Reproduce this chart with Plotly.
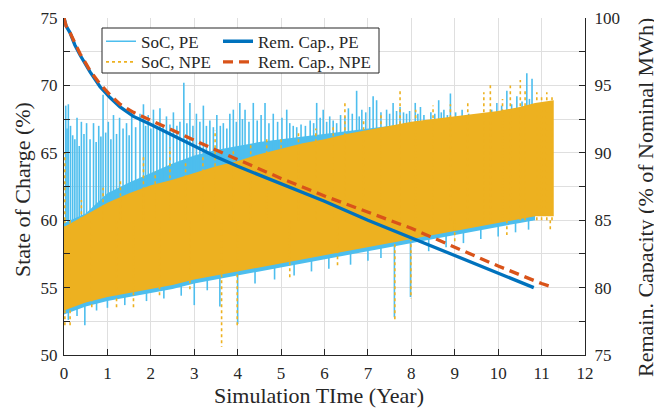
import plotly.graph_objects as go

# ---------------- data ----------------
# SoC band of the PE case (dense core of the oscillating trace)
pe_band_years = [0, 0.5, 1, 1.5, 2, 2.5, 3, 3.5, 4, 4.5, 5, 5.5, 6, 6.5, 7, 7.5, 8, 8.5, 9, 9.5, 10, 10.5, 10.85]
pe_band_lo = [53.0, 53.6, 54.0, 54.3, 54.6, 54.9, 55.3, 55.6, 55.9, 56.2, 56.5, 56.8, 57.1, 57.4, 57.7, 58.0, 58.3, 58.6, 58.9, 59.2, 59.5, 59.8, 60.0]
pe_band_hi = [59.8, 60.5, 62.0, 62.8, 63.5, 64.2, 64.8, 65.2, 65.5, 65.8, 66.0, 66.2, 66.4, 66.6, 66.8, 67.0, 67.2, 67.3, 67.4, 67.5, 67.6, 67.7, 67.7]

# SoC band of the NPE case
npe_band_years = [0, 0.5, 1, 1.5, 2, 2.5, 3, 3.5, 4, 4.5, 5, 5.5, 6, 6.5, 7, 7.5, 8, 8.5, 9, 9.5, 10, 10.5, 10.85, 11.28]
npe_band_lo = [53.3, 53.9, 54.3, 54.6, 54.9, 55.2, 55.6, 55.9, 56.2, 56.5, 56.8, 57.1, 57.4, 57.7, 58.0, 58.3, 58.6, 58.9, 59.2, 59.5, 59.8, 60.1, 60.3, 60.3]
npe_band_hi = [59.5, 60.4, 61.3, 62.0, 62.6, 63.0, 63.5, 64.0, 64.4, 64.9, 65.3, 65.7, 66.0, 66.4, 66.7, 67.0, 67.3, 67.5, 67.7, 67.9, 68.1, 68.4, 68.7, 68.9]

# upward peaks of the PE SoC trace
pe_peak_years = [0.04, 0.07, 0.10, 0.15, 0.20, 0.25, 0.30, 0.35, 0.40, 0.46, 0.52, 0.60, 0.68, 0.74, 0.80, 0.85,
                 0.90, 0.96, 1.02, 1.08, 1.14, 1.21, 1.28, 1.36, 1.44, 1.50, 1.56, 1.65, 1.75, 1.83, 1.88, 1.94,
                 2.00, 2.06, 2.14, 2.21, 2.28, 2.36, 2.44, 2.52, 2.60, 2.67, 2.76, 2.83, 2.90, 2.97, 3.05, 3.13,
                 3.21, 3.28, 3.36, 3.44, 3.52, 3.60, 3.67, 3.75, 3.82, 3.90, 3.97,
                 4.05, 4.11, 4.17, 4.26, 4.36, 4.45, 4.54, 4.63, 4.72, 4.82, 4.92, 5.02, 5.13, 5.20, 5.28, 5.36,
                 5.46, 5.56, 5.67, 5.75, 5.82, 5.90, 5.97, 6.05, 6.12, 6.20, 6.28, 6.37, 6.47, 6.55, 6.64, 6.74,
                 6.80, 6.86, 6.95, 7.04, 7.12, 7.20, 7.30, 7.43, 7.50, 7.58, 7.66, 7.74, 7.82, 7.89, 7.96,
                 8.09, 8.15, 8.21, 8.29, 8.36, 8.45, 8.54, 8.63, 8.69, 8.75, 8.83, 8.90, 9.02, 9.10, 9.17, 9.25,
                 9.32, 9.42, 9.51, 9.62, 9.74, 9.85, 9.97, 10.08, 10.20, 10.31, 10.43, 10.55, 10.66, 10.72, 10.78]
pe_peak_soc = [68.5, 66.8, 68.6, 67.0, 66.3, 66.0, 67.6, 65.5, 67.3, 66.4, 67.2, 66.0, 67.2, 65.8, 67.0, 66.2,
               69.3, 66.5, 67.3, 66.0, 67.8, 66.4, 67.6, 66.8, 67.2, 66.3, 67.7, 66.9, 67.9, 68.6, 67.0, 67.8,
               66.8, 68.2, 67.0, 68.3, 66.9, 67.7, 67.1, 68.0, 67.0, 67.3, 70.2, 67.2, 68.7, 67.0, 67.9, 67.3,
               68.5, 67.0, 67.4, 66.9, 67.8, 67.0, 67.2, 66.8, 67.9, 68.2, 67.3,
               68.7, 67.5, 68.2, 67.3, 68.7, 67.4, 67.8, 68.7, 67.2, 67.9, 67.3, 67.6, 68.2, 67.2, 67.0, 66.9,
               67.1, 67.0, 67.4, 67.2, 68.7, 67.6, 68.2, 67.3, 67.7, 67.4, 67.2, 67.8, 67.7, 68.3, 67.9, 69.6,
               67.7, 68.2, 68.0, 68.4, 69.2, 68.9, 68.0, 68.2, 67.9, 68.7, 68.1, 68.4, 68.0, 67.9, 68.1,
               68.7, 67.9, 68.4, 67.8, 67.4, 68.0, 67.9, 68.9, 68.0, 68.2, 67.8, 69.4, 68.0, 67.7, 68.2, 67.8,
               67.9, 67.6, 67.7, 67.8, 67.7, 68.2, 68.7, 68.5, 69.6, 68.6, 69.2, 68.8, 70.9, 69.0, 70.5]

# downward dips of the PE SoC trace
pe_dip_years = [0.10, 0.30, 0.48, 0.75, 1.00, 1.40, 1.90, 2.30, 2.70, 3.00, 3.30, 3.59, 4.00, 4.40, 4.85,
                5.30, 5.70, 6.10, 6.60, 7.00, 7.30, 7.61, 7.98, 8.40, 8.80, 9.20, 9.60, 10.00, 10.40, 10.70]
pe_dip_soc = [52.6, 52.9, 52.2, 53.3, 53.5, 53.7, 54.0, 54.2, 54.4, 53.7, 54.8, 53.6, 52.3, 55.3, 55.6,
              55.9, 56.2, 56.4, 56.7, 57.0, 57.2, 52.8, 54.3, 57.7, 58.0, 58.3, 58.6, 58.8, 59.1, 59.3]

# upward peaks of the NPE SoC trace
npe_peak_years = [0.02, 0.40, 0.90, 1.30, 1.83, 2.10, 2.44, 2.80, 3.20, 3.48, 3.90, 4.30, 4.67, 5.00, 5.40,
                  5.80, 6.20, 6.47, 6.90, 7.30, 7.74, 8.10, 8.50, 8.90, 9.30, 9.67, 9.82, 10.10, 10.28, 10.51,
                  10.62, 10.89, 11.00, 11.12, 11.24]
npe_peak_soc = [65.0, 61.5, 62.4, 63.0, 64.7, 63.6, 65.4, 64.3, 64.7, 66.7, 65.3, 65.6, 66.2, 66.1, 66.6,
                66.8, 67.0, 68.7, 67.5, 67.8, 69.7, 68.2, 68.5, 68.6, 68.8, 69.5, 70.2, 69.0, 70.0, 70.4,
                69.7, 69.5, 69.3, 69.5, 69.2]

# downward dips of the NPE SoC trace
npe_dip_years = [0.02, 0.14, 0.64, 1.21, 1.60, 2.20, 2.90, 3.63, 3.99, 5.20, 6.30, 7.62, 7.99, 9.00, 10.20, 11.20]
npe_dip_soc = [52.0, 52.0, 53.5, 53.4, 53.5, 54.3, 54.8, 50.6, 52.2, 55.6, 56.6, 52.6, 54.2, 58.3, 58.9, 59.3]

# remaining capacity (% of nominal MWh)
pe_cap_years = [0, 0.05, 0.14, 0.25, 0.37, 0.6, 0.83, 1.06, 1.29, 1.6, 2, 2.5, 3, 3.5, 4, 5, 6, 7, 8, 9, 10, 10.82]
pe_cap = [100, 99.4, 98.9, 98.0, 97.25, 96.0, 94.9, 94.1, 93.4, 92.7, 92.1, 91.3, 90.5, 89.7, 89.0, 87.7, 86.4, 85.0, 83.7, 82.4, 81.1, 80.0]
npe_cap_years = [0, 0.05, 0.14, 0.25, 0.37, 0.6, 0.83, 1.06, 1.29, 1.6, 2, 2.5, 3, 3.5, 4, 5, 6, 7, 8, 9, 10, 11, 11.28]
npe_cap = [100, 99.4, 98.9, 98.1, 97.35, 96.1, 95.1, 94.3, 93.6, 93.0, 92.4, 91.7, 90.9, 90.2, 89.5, 88.1, 86.8, 85.6, 84.4, 83.0, 81.6, 80.3, 80.0]

x_ticks = list(range(0, 13))
soc_ticks = [50, 55, 60, 65, 70, 75]
cap_ticks = [75, 80, 85, 90, 95, 100]

# ---------------- styling ----------------
C_PE = "#4DBEEE"
C_NPE = "#EDB120"
C_PE_CAP = "#0072BD"
C_NPE_CAP = "#D95319"
AX = "#262626"
GRID = "#DFDFDF"
FONT = "Liberation Serif, Times New Roman, serif"
SPIKE_BASE = 60.0


def polygon(xs, lo, hi):
    return list(xs) + list(xs[::-1]), list(hi) + list(lo[::-1])


def segments(xs, ends, base):
    sx, sy = [], []
    for x, e in zip(xs, ends):
        sx += [x, x, None]
        sy += [base, e, None]
    return sx, sy


fig = go.Figure()

# PE SoC
px_, py_ = polygon(pe_band_years, pe_band_lo, pe_band_hi)
fig.add_trace(go.Scatter(x=px_, y=py_, fill="toself", fillcolor=C_PE, mode="lines",
                         line=dict(width=0, color=C_PE), showlegend=False, hoverinfo="skip"))
sx, sy = segments(pe_dip_years, pe_dip_soc, SPIKE_BASE)
fig.add_trace(go.Scatter(x=sx, y=sy, mode="lines", line=dict(color=C_PE, width=1.6),
                         showlegend=False, hoverinfo="skip"))
sx, sy = segments(pe_peak_years, pe_peak_soc, SPIKE_BASE)
fig.add_trace(go.Scatter(x=sx, y=sy, mode="lines", line=dict(color=C_PE, width=1.6),
                         name="SoC, PE", legend="legend"))

# NPE SoC
px_, py_ = polygon(npe_band_years, npe_band_lo, npe_band_hi)
fig.add_trace(go.Scatter(x=px_, y=py_, fill="toself", fillcolor=C_NPE, mode="lines",
                         line=dict(width=0, color=C_NPE), showlegend=False, hoverinfo="skip"))
sx, sy = segments(npe_dip_years, npe_dip_soc, SPIKE_BASE)
fig.add_trace(go.Scatter(x=sx, y=sy, mode="lines", line=dict(color=C_NPE, width=1.6, dash="dot"),
                         showlegend=False, hoverinfo="skip"))
sx, sy = segments(npe_peak_years, npe_peak_soc, SPIKE_BASE)
fig.add_trace(go.Scatter(x=sx, y=sy, mode="lines", line=dict(color=C_NPE, width=1.6, dash="dot"),
                         name="SoC, NPE", legend="legend2"))

# Remaining capacity
fig.add_trace(go.Scatter(x=pe_cap_years, y=pe_cap, yaxis="y2", mode="lines",
                         line=dict(color=C_PE_CAP, width=3.3),
                         name="Rem. Cap., PE", legend="legend3"))
fig.add_trace(go.Scatter(x=npe_cap_years, y=npe_cap, yaxis="y2", mode="lines",
                         line=dict(color=C_NPE_CAP, width=3.3, dash="10px,6px"),
                         name="Rem. Cap., NPE", legend="legend4"))

# The page body has an 8 px default margin; size the figure so that the
# plot area lands at the window pixels of the reference.
BODY = 8
WIN_W, WIN_H = 662, 410
W, H = WIN_W - BODY, WIN_H - BODY
PLOT_L, PLOT_R, PLOT_T, PLOT_B = 64, 585, 18, 355  # window pixels
ML, MR, MT, MB = PLOT_L - BODY, WIN_W - PLOT_R, PLOT_T - BODY, WIN_H - PLOT_B
PW, PH = W - ML - MR, H - MT - MB


def paper_x(px):
    return (px - PLOT_L) / PW


def paper_y(py):
    return (PLOT_B - py) / PH


tick_font = dict(family=FONT, size=17, color=AX)
title_font = dict(family=FONT, size=22, color=AX)
leg_font = dict(family=FONT, size=17, color=AX)


def leg(px, py):
    return dict(x=paper_x(px), y=paper_y(py), xanchor="left", yanchor="middle",
                bgcolor="rgba(0,0,0,0)", borderwidth=0, font=leg_font, itemwidth=30)


def title(text, px, py, angle):
    return dict(text=text, x=paper_x(px), y=paper_y(py), xref="paper", yref="paper",
                xanchor="center", yanchor="middle", textangle=angle, showarrow=False,
                font=title_font)


fig.update_layout(
    template="none",
    width=W, height=H,
    margin=dict(l=ML, r=MR, t=MT, b=MB, autoexpand=False),
    paper_bgcolor="white", plot_bgcolor="white",
    font=dict(family=FONT, size=17, color=AX),
    xaxis=dict(range=[0, 12], tickvals=x_ticks, ticks="inside", ticklen=6, tickcolor=AX,
               showline=True, linecolor=AX, linewidth=1, mirror=False, automargin=False,
               showgrid=True, gridcolor=GRID, gridwidth=1, zeroline=False,
               tickfont=tick_font, ticklabelstandoff=3),
    yaxis=dict(range=[50, 75], tickvals=soc_ticks, ticks="inside", ticklen=6, tickcolor=AX,
               showline=True, linecolor=AX, linewidth=1, automargin=False,
               showgrid=True, gridcolor=GRID, gridwidth=1, zeroline=False,
               minor=dict(dtick=2.5, tick0=50, ticks="inside", ticklen=6, tickcolor=AX,
                          showgrid=True, gridcolor=GRID, gridwidth=1),
               tickfont=tick_font, ticklabelstandoff=2),
    yaxis2=dict(range=[75, 100], tickvals=cap_ticks, overlaying="y", side="right",
                ticks="inside", ticklen=6, tickcolor=AX, automargin=False,
                showline=True, linecolor=AX, linewidth=1, showgrid=False, zeroline=False,
                minor=dict(dtick=2.5, tick0=75, ticks="inside", ticklen=6, tickcolor=AX, showgrid=False),
                tickfont=tick_font, ticklabelstandoff=5),
    legend=leg(101, 41.7),
    legend2=leg(101, 62.3),
    legend3=leg(218, 41.7),
    legend4=leg(218, 62.3),
    shapes=[dict(type="rect", xref="paper", yref="paper",
                 x0=paper_x(102), x1=paper_x(379), y0=paper_y(73), y1=paper_y(28),
                 line=dict(color=AX, width=1), fillcolor="white", layer="above")],
    annotations=[
        title("Simulation TIme (Year)", 319, 395.5, 0),
        title("State of Charge (%)", 22, 190, -90),
        title("Remain. Capacity (% of Nominal MWh)", 645, 198, -90),
    ],
)

fig.write_html("out.html")
